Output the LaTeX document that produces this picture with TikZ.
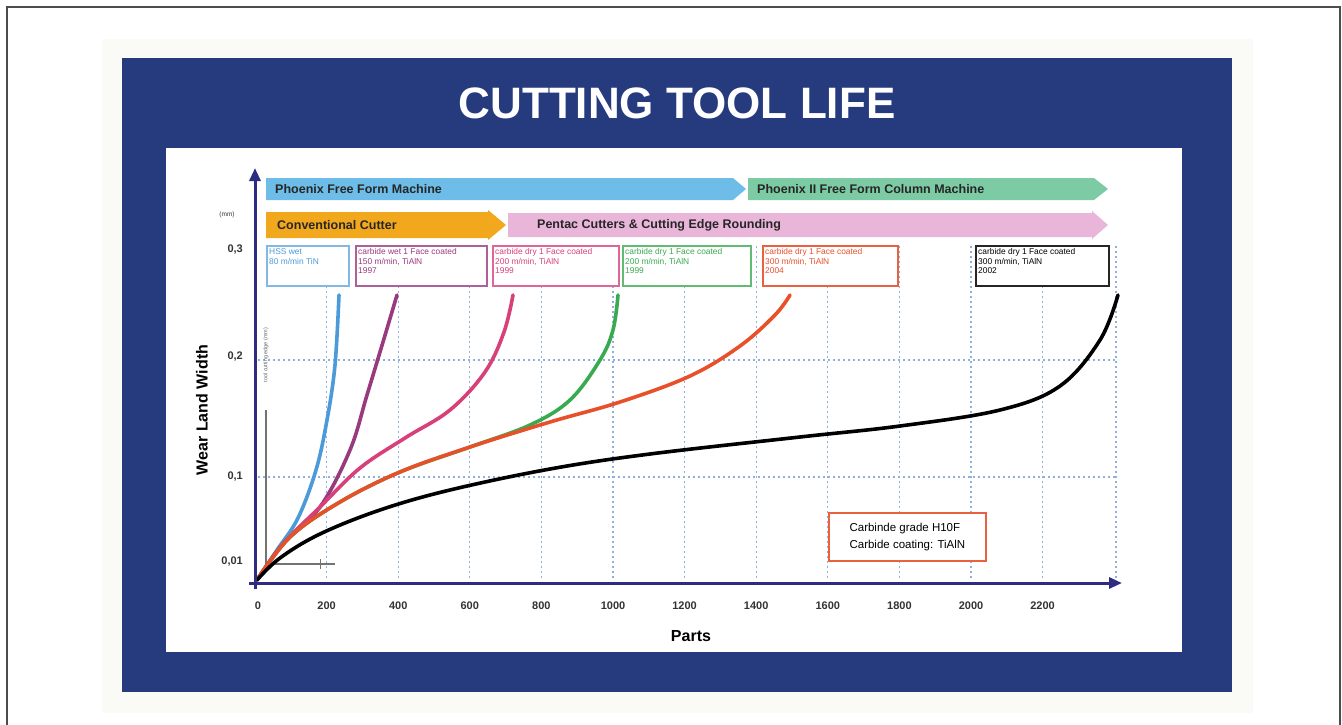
\documentclass[tikz,border=0pt]{standalone}
\usepackage{fontspec}
\setmainfont{Liberation Sans}
\usetikzlibrary{arrows.meta}
\definecolor{navy}{HTML}{263A7E}
\definecolor{axisblue}{HTML}{2E2C80}
\definecolor{bandblue}{HTML}{6DBDE8}
\definecolor{bandgreen}{HTML}{7DCBA5}
\definecolor{bandorange}{HTML}{F2A81D}
\definecolor{bandpink}{HTML}{E9B6DA}
\definecolor{gridc}{HTML}{8FB0DA}
\definecolor{cblue}{HTML}{4C9AD8}
\definecolor{cpurple}{HTML}{9A3A7E}
\definecolor{cmagenta}{HTML}{D8407A}
\definecolor{cgreen}{HTML}{3AAA50}
\definecolor{corange}{HTML}{E8502A}
\definecolor{panel}{HTML}{FAFAF6}
\definecolor{labgray}{HTML}{333333}
\tikzset{
  bandtext/.style={font=\bfseries\fontsize{12.5}{14}\selectfont, text=black!85, anchor=west, inner sep=0pt},
  ticklab/.style={font=\bfseries\fontsize{11}{12}\selectfont, text=labgray, inner sep=0pt},
  infobox/.style={draw, line width=1.8pt, fill=white, anchor=north west, minimum height=40pt},
  infotext/.style={anchor=north west, align=left, inner sep=0pt, xshift=3pt, yshift=-3.5pt,
     font=\fontsize{8.4}{9.6}\selectfont},
  curve/.style={line width=3.6pt, line cap=round},
  gridline/.style={gridc, line width=1.2pt, dash pattern=on 2pt off 3pt},
  axisline/.style={axisblue, line width=3pt, -{Triangle[length=13pt,width=11pt]}}
}
\begin{document}
\begin{tikzpicture}[x=1pt,y=-1pt]
\useasboundingbox (0,0) rectangle (1342,725);
% outer frame
\draw[black!70, line width=1.5pt] (7,726) -- (7,7) -- (1340,7) -- (1340,726);
% light panel
\fill[panel] (102,39) rectangle (1253,713);
% navy frame
\fill[navy] (122,58) rectangle (1232,692);
\fill[white] (166,148) rectangle (1182,652);
\node[font=\bfseries\fontsize{44}{50}\selectfont, text=white] (title) at (677,103) {CUTTING TOOL LIFE};

% grid
\foreach \k in {1,...,11} {
  \draw[gridline] (255+\k*71.6,246) -- (255+\k*71.6,580);
}
\draw[gridline] (1116,246) -- (1116,580);
\draw[gridline] (258,360) -- (1118,360);
\draw[gridline] (258,477) -- (1118,477);

% bands
\fill[bandblue] (266,178) -- (733,178) -- (746,189) -- (733,200) -- (266,200) -- cycle;
\fill[bandgreen] (748,178) -- (1094,178) -- (1108,189) -- (1094,200) -- (748,200) -- cycle;
\fill[bandorange] (266,212) -- (488,212) -- (488,210) -- (506,225) -- (488,240) -- (488,238) -- (266,238) -- cycle;
\fill[bandpink] (508,213) -- (1092,213) -- (1092,211) -- (1108,225) -- (1092,239) -- (1092,237) -- (508,237) -- cycle;
\node[bandtext] (b1) at (275,189) {Phoenix Free Form Machine};
\node[bandtext] (b2) at (757,189) {Phoenix II Free Form Column Machine};
\node[bandtext] (b3) at (277,225) {Conventional Cutter};
\node[bandtext] (b4) at (537,225) {Pentac Cutters \& Cutting Edge Rounding};

% info boxes
\node[infobox, draw=cblue!70, minimum width=82pt] (i1) at (266,245) {};
\node[infotext, text=cblue] (t1) at (i1.north west) {HSS wet\\80 m/min TiN};
\node[infobox, draw=cpurple!80, minimum width=131pt] (i2) at (355,245) {};
\node[infotext, text=cpurple] (t2) at (i2.north west) {carbide wet 1 Face coated\\150 m/min, TiAlN\\1997};
\node[infobox, draw=cmagenta!80, minimum width=126pt] (i3) at (492,245) {};
\node[infotext, text=cmagenta] (t3) at (i3.north west) {carbide dry 1 Face coated\\200 m/min, TiAlN\\1999};
\node[infobox, draw=cgreen!80, minimum width=128pt] (i4) at (622,245) {};
\node[infotext, text=cgreen] (t4) at (i4.north west) {carbide dry 1 Face coated\\200 m/min, TiAlN\\1999};
\node[infobox, draw=corange!90, minimum width=135pt] (i5) at (762,245) {};
\node[infotext, text=corange] (t5) at (i5.north west) {carbide dry 1 Face coated\\300 m/min, TiAlN\\2004};
\node[infobox, draw=black!85, minimum width=133pt] (i6) at (975,245) {};
\node[infotext, text=black] (t6) at (i6.north west) {carbide dry 1 Face coated\\300 m/min, TiAlN\\2002};

% small ruler
\draw[black!55, line width=1.2pt] (266,410) -- (266,564) -- (335,564);
\draw[black!55, line width=1pt] (320,559) -- (320,569);
\node[rotate=90, font=\fontsize{5.5}{6}\selectfont, text=black!60, inner sep=0pt] (rl) at (266,355) {tool cutting edge (mm)};

% curves
\draw[curve, cblue] plot[smooth, tension=0.6] coordinates {(257,580) (277,550) (298,518) (316,470) (327,420) (335,365) (339,295)};
\draw[curve, cpurple] plot[smooth, tension=0.6] coordinates {(257,580) (282,545) (320,507) (350,450) (367,395) (383,342) (397,295)};
\draw[curve, cmagenta] plot[smooth, tension=0.6] coordinates {(257,580) (285,542) (320,507) (360,468) (405,438) (450,410) (485,372) (504,332) (513,295)};
\draw[curve, cgreen] plot[smooth, tension=0.6] coordinates {(257,580) (290,537) (340,502) (400,472) (470,447) (530,425) (570,400) (600,360) (613,330) (618,295)};
\draw[curve, corange] plot[smooth, tension=0.6] coordinates {(257,580) (290,537) (340,502) (400,472) (470,447) (550,422) (620,402) (690,376) (740,346) (775,315) (790,295)};
\draw[curve, black] plot[smooth, tension=0.6] coordinates {(257,580) (280,558) (320,534) (380,510) (450,490) (550,469) (650,454) (800,437) (900,426) (1000,410) (1060,386) (1100,340) (1118,295)};

% axes
\draw[axisline] (255,589) -- (255,168);
\draw[axisline] (249,583) -- (1122,583);

% y labels
\node[font=\fontsize{6.5}{7}\selectfont, text=labgray, inner sep=0pt] (mm) at (227,215) {(mm)};
\node[ticklab, anchor=east] (y3) at (243,250) {0,3};
\node[ticklab, anchor=east] (y2) at (243,357) {0,2};
\node[ticklab, anchor=east] (y1) at (243,477) {0,1};
\node[ticklab, anchor=east] (y0) at (243,562) {0,01};
\node[rotate=90, font=\bfseries\fontsize{16}{18}\selectfont, inner sep=0pt] (ylab) at (202,410) {Wear Land Width};

% x labels
\node[ticklab] (x0) at (258,606) {0};
\foreach \k/\v in {1/200,2/400,3/600,4/800,5/1000,6/1200,7/1400,8/1600,9/1800,10/2000,11/2200} {
  \node[ticklab] (x\k) at (255+\k*71.6,606) {\v};
}
\node[font=\bfseries\fontsize{16}{18}\selectfont, inner sep=0pt] (xlab) at (691,636) {Parts};

% legend
\node[draw=corange!90, line width=1.8pt, fill=white, align=left, anchor=north west, inner sep=6pt,
      minimum width=157pt, minimum height=48pt, font=\fontsize{11.5}{17}\selectfont] (leg) at (828,512)
      {Carbinde grade H10F\\Carbide coating: TiAlN};
\end{tikzpicture}
\end{document}
